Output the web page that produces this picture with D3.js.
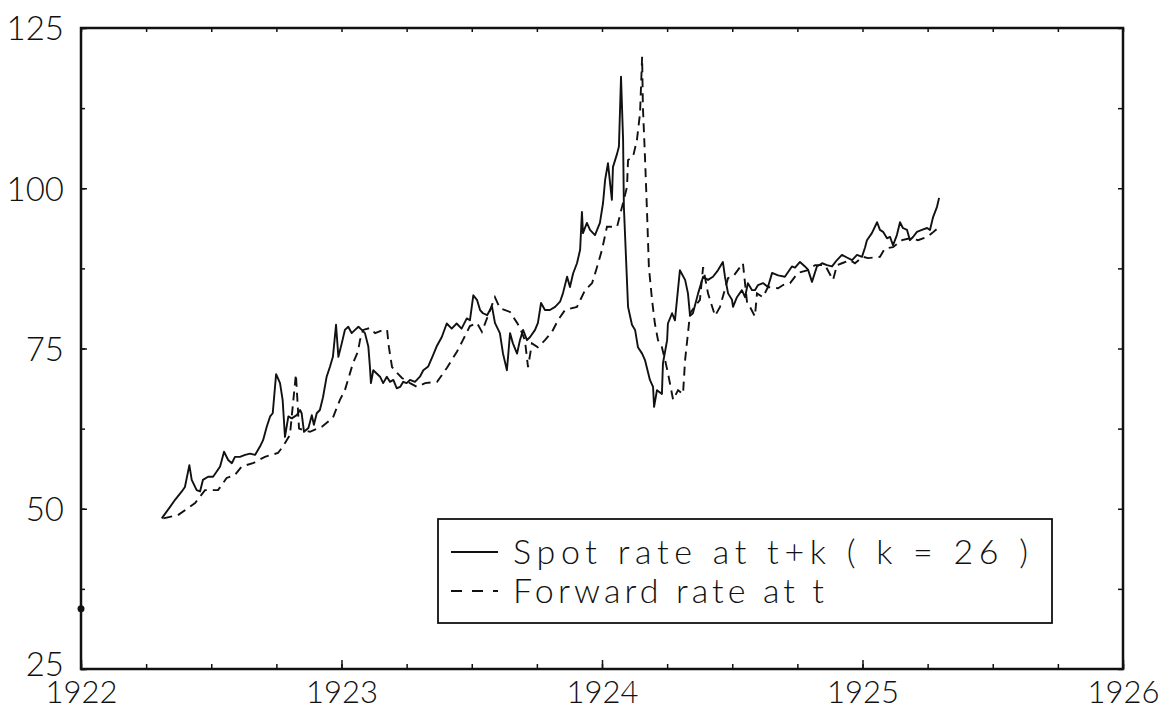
<!DOCTYPE html>
<html>
<head>
<meta charset="utf-8">
<script src="https://cdn.jsdelivr.net/npm/d3@7"></script>
<style>
  body { margin: 0; background: #fff; }
  svg { display: block; }
  text { font-family: Lato, "DejaVu Sans", sans-serif; font-weight: 300; fill: #111; }
</style>
</head>
<body>
<div id="chart"></div>
<script>
// spot rate at t+k (k = 26), weekly: [year, value]
const spotSeries = [
  [1922.310, 48.5], [1922.342, 50.3], [1922.361, 51.4], [1922.387, 52.7], [1922.399, 53.4],
  [1922.416, 56.8], [1922.425, 54.5], [1922.444, 52.9], [1922.457, 52.7], [1922.468, 54.5],
  [1922.488, 55.0], [1922.507, 55.0], [1922.521, 55.8], [1922.534, 56.6], [1922.549, 58.9],
  [1922.565, 57.6], [1922.579, 57.1], [1922.591, 58.1], [1922.610, 58.1], [1922.630, 58.4],
  [1922.649, 58.6], [1922.668, 58.4], [1922.687, 59.7], [1922.699, 60.7], [1922.713, 62.8],
  [1922.726, 64.4], [1922.736, 64.9], [1922.749, 71.0], [1922.764, 69.6], [1922.774, 67.0],
  [1922.783, 61.2], [1922.796, 64.4], [1922.809, 64.1], [1922.828, 64.6], [1922.841, 65.4],
  [1922.847, 64.9], [1922.856, 62.0], [1922.873, 62.6], [1922.886, 64.6], [1922.894, 63.1],
  [1922.905, 64.9], [1922.917, 65.4], [1922.929, 67.4], [1922.943, 70.6], [1922.956, 72.2],
  [1922.967, 73.7], [1922.979, 78.7], [1922.988, 73.7], [1923.001, 75.8], [1923.013, 77.9],
  [1923.026, 78.4], [1923.039, 77.4], [1923.052, 77.9], [1923.065, 78.4], [1923.078, 77.9],
  [1923.090, 77.4], [1923.103, 75.3], [1923.109, 72.2], [1923.113, 69.6], [1923.122, 71.6],
  [1923.135, 71.1], [1923.148, 70.6], [1923.160, 69.6], [1923.174, 70.6], [1923.186, 69.8],
  [1923.199, 70.1], [1923.212, 68.8], [1923.225, 69.0], [1923.237, 69.8], [1923.250, 69.6],
  [1923.263, 70.1], [1923.282, 69.8], [1923.301, 70.6], [1923.314, 71.6], [1923.333, 72.2],
  [1923.352, 74.0], [1923.365, 75.3], [1923.385, 76.8], [1923.404, 78.9], [1923.423, 78.1],
  [1923.442, 78.9], [1923.461, 78.1], [1923.481, 79.7], [1923.493, 79.4], [1923.506, 83.3],
  [1923.520, 82.6], [1923.532, 81.0], [1923.543, 80.5], [1923.559, 80.2], [1923.570, 81.0],
  [1923.578, 81.5], [1923.589, 79.0], [1923.608, 77.4], [1923.620, 74.2], [1923.635, 71.6],
  [1923.647, 77.4], [1923.658, 75.8], [1923.674, 74.2], [1923.685, 76.3], [1923.697, 77.9],
  [1923.712, 76.3], [1923.724, 76.8], [1923.743, 77.9], [1923.754, 79.0], [1923.766, 82.1],
  [1923.781, 81.0], [1923.800, 81.0], [1923.820, 81.5], [1923.839, 82.3], [1923.850, 83.6],
  [1923.866, 86.2], [1923.877, 84.6], [1923.889, 86.7], [1923.904, 88.3], [1923.916, 90.4],
  [1923.923, 96.3], [1923.927, 93.0], [1923.942, 94.6], [1923.954, 93.5], [1923.973, 92.7],
  [1923.992, 94.6], [1924.004, 97.7], [1924.012, 101.3], [1924.023, 103.9], [1924.031, 100.8],
  [1924.038, 98.2], [1924.042, 103.3], [1924.058, 105.4], [1924.065, 106.5], [1924.073, 117.4],
  [1924.081, 107.5], [1924.084, 97.1], [1924.092, 89.3], [1924.100, 81.5], [1924.115, 78.7],
  [1924.127, 77.9], [1924.138, 75.2], [1924.154, 74.2], [1924.165, 73.2], [1924.184, 70.1],
  [1924.196, 69.0], [1924.200, 65.9], [1924.211, 68.5], [1924.230, 67.9], [1924.234, 72.7],
  [1924.250, 76.3], [1924.253, 78.9], [1924.269, 80.5], [1924.280, 79.4], [1924.299, 87.2],
  [1924.319, 85.7], [1924.330, 83.6], [1924.338, 80.1], [1924.349, 80.5], [1924.369, 83.6],
  [1924.388, 86.2], [1924.407, 85.7], [1924.426, 86.2], [1924.445, 87.2], [1924.464, 88.5],
  [1924.472, 86.2], [1924.484, 83.6], [1924.499, 82.6], [1924.503, 81.5], [1924.518, 83.0],
  [1924.537, 84.1], [1924.549, 83.0], [1924.560, 85.2], [1924.576, 84.1], [1924.587, 84.1],
  [1924.599, 84.9], [1924.618, 85.2], [1924.637, 84.6], [1924.653, 86.8], [1924.676, 86.4],
  [1924.702, 86.2], [1924.729, 87.8], [1924.741, 87.6], [1924.760, 88.5], [1924.779, 87.8],
  [1924.791, 87.3], [1924.806, 85.4], [1924.825, 87.8], [1924.845, 88.3], [1924.864, 88.0],
  [1924.883, 87.8], [1924.902, 88.8], [1924.921, 89.6], [1924.940, 89.2], [1924.960, 88.8],
  [1924.979, 89.6], [1924.998, 89.3], [1925.010, 90.8], [1925.017, 91.9], [1925.036, 93.0],
  [1925.056, 94.7], [1925.067, 93.5], [1925.079, 93.2], [1925.094, 92.2], [1925.106, 92.4],
  [1925.117, 91.1], [1925.132, 92.7], [1925.144, 94.7], [1925.155, 93.8], [1925.171, 93.5],
  [1925.182, 91.9], [1925.194, 92.4], [1925.209, 93.2], [1925.228, 93.5], [1925.248, 93.8],
  [1925.259, 93.5], [1925.271, 95.5], [1925.286, 97.1], [1925.294, 98.5]
];

// forward rate at t
const forwardSeries = [
  [1922.316, 48.5], [1922.372, 49.0], [1922.438, 50.9], [1922.476, 52.9], [1922.526, 52.9],
  [1922.559, 54.8], [1922.591, 55.3], [1922.617, 56.6], [1922.660, 57.1], [1922.706, 58.1],
  [1922.756, 58.7], [1922.775, 59.7], [1922.802, 61.5], [1922.825, 71.0], [1922.837, 62.5],
  [1922.879, 62.0], [1922.925, 62.8], [1922.967, 64.2], [1922.994, 67.0], [1923.013, 68.5],
  [1923.033, 71.2], [1923.044, 72.7], [1923.063, 74.5], [1923.071, 76.3], [1923.083, 77.9],
  [1923.109, 78.2], [1923.129, 77.4], [1923.159, 77.9], [1923.175, 77.9], [1923.182, 75.2],
  [1923.194, 72.1], [1923.213, 71.2], [1923.232, 70.4], [1923.263, 69.6], [1923.290, 69.0],
  [1923.321, 69.6], [1923.367, 69.8], [1923.405, 72.0], [1923.443, 74.5], [1923.466, 76.3],
  [1923.493, 78.5], [1923.520, 79.0], [1923.539, 77.6], [1923.589, 83.0], [1923.608, 81.3],
  [1923.647, 80.7], [1923.674, 79.0], [1923.685, 78.2], [1923.704, 76.3], [1923.716, 72.1],
  [1923.731, 75.8], [1923.754, 75.2], [1923.781, 76.3], [1923.808, 77.6], [1923.831, 79.4],
  [1923.858, 81.0], [1923.904, 81.5], [1923.935, 84.1], [1923.962, 85.2], [1923.981, 87.7],
  [1924.000, 90.4], [1924.019, 94.0], [1924.058, 94.0], [1924.096, 100.2], [1924.100, 104.4],
  [1924.119, 104.9], [1924.134, 107.5], [1924.146, 111.7], [1924.154, 120.5], [1924.157, 112.7],
  [1924.165, 104.9], [1924.173, 96.1], [1924.180, 87.7], [1924.192, 82.6], [1924.203, 78.9],
  [1924.215, 76.3], [1924.230, 75.2], [1924.242, 73.2], [1924.253, 71.2], [1924.273, 67.0],
  [1924.292, 68.5], [1924.311, 67.9], [1924.319, 73.2], [1924.330, 77.4], [1924.338, 80.5],
  [1924.376, 82.6], [1924.388, 87.7], [1924.407, 83.6], [1924.434, 80.1], [1924.453, 81.5],
  [1924.484, 86.0], [1924.503, 86.2], [1924.541, 88.3], [1924.557, 82.1], [1924.568, 81.5],
  [1924.587, 80.0], [1924.595, 83.6], [1924.618, 83.0], [1924.637, 84.6], [1924.676, 84.4],
  [1924.695, 84.9], [1924.722, 85.2], [1924.752, 86.8], [1924.787, 87.2], [1924.818, 88.0],
  [1924.856, 88.0], [1924.887, 85.7], [1924.902, 88.0], [1924.921, 88.3], [1924.952, 88.8],
  [1924.971, 88.3], [1925.002, 89.3], [1925.021, 89.1], [1925.067, 89.3], [1925.086, 90.6],
  [1925.117, 90.8], [1925.152, 91.9], [1925.182, 92.2], [1925.213, 91.9], [1925.248, 92.4],
  [1925.267, 93.0], [1925.290, 93.8]
];

// lone dot sitting on the left axis in the original
const strayPoint = [1922.0, 34.4];

const xTickLabels = [1922, 1923, 1924, 1925, 1926];
const yTickLabels = [25, 50, 75, 100, 125];
const xMinorTicks = d3.range(1922, 1926.01, 0.25);
const yMinorTicks = d3.range(25, 125.01, 12.5);
const legendLabels = ['Spot rate at t+k ( k = 26 )', 'Forward rate at t'];

const width = 1172, height = 710;
const plotLeft = 81, plotRight = 1123, plotTop = 28, plotBottom = 669;

const svg = d3.select('#chart').append('svg')
  .attr('width', width)
  .attr('height', height);

const x = d3.scaleLinear().domain([1922, 1926]).range([plotLeft, plotRight]);
const y = d3.scaleLinear().domain([25, 125]).range([plotBottom, plotTop]);

// inward ticks on all four sides
function ticks(axis, transform) {
  const g = svg.append('g').attr('transform', transform).call(axis);
  g.select('.domain').remove();
  g.selectAll('line').attr('stroke', '#111').attr('stroke-width', 1.5);
  return g;
}

ticks(d3.axisBottom(x).tickValues(xMinorTicks).tickSize(-5).tickFormat(''), `translate(0,${plotBottom})`);
ticks(d3.axisTop(x).tickValues(xMinorTicks).tickSize(-4).tickFormat(''), `translate(0,${plotTop})`);
ticks(d3.axisLeft(y).tickValues(yMinorTicks).tickSize(-4).tickFormat(''), `translate(${plotLeft},0)`);
ticks(d3.axisRight(y).tickValues(yMinorTicks).tickSize(-5).tickFormat(''), `translate(${plotRight},0)`);

// labelled axes
const xAxis = ticks(d3.axisBottom(x).tickValues(xTickLabels).tickSize(-9).tickFormat(d3.format('d')),
  `translate(0,${plotBottom})`);
xAxis.selectAll('text')
  .attr('dy', null)
  .attr('y', 34)
  .style('font-size', '31px')
  .style('font-family', 'Lato, "DejaVu Sans", sans-serif')
  .style('font-weight', 300)
  .attr('fill', '#111');

const yAxis = ticks(d3.axisLeft(y).tickValues(yTickLabels).tickSize(-6).tickPadding(17),
  `translate(${plotLeft},0)`);
yAxis.selectAll('text')
  .style('font-size', '33px')
  .style('font-family', 'Lato, "DejaVu Sans", sans-serif')
  .style('font-weight', 300)
  .attr('fill', '#111')
  .attr('dy', d => d === 25 ? '0.2em' : '0.36em');

// frame
svg.append('rect')
  .attr('x', plotLeft).attr('y', plotTop)
  .attr('width', plotRight - plotLeft).attr('height', plotBottom - plotTop)
  .attr('fill', 'none')
  .attr('stroke', '#111')
  .attr('stroke-width', 2.5);

const line = d3.line().x(d => x(d[0])).y(d => y(d[1]));

svg.append('path')
  .datum(forwardSeries)
  .attr('d', line)
  .attr('fill', 'none')
  .attr('stroke', '#111')
  .attr('stroke-width', 1.9)
  .attr('stroke-dasharray', '9,6');

svg.append('path')
  .datum(spotSeries)
  .attr('d', line)
  .attr('fill', 'none')
  .attr('stroke', '#111')
  .attr('stroke-width', 1.9)
  .attr('stroke-linejoin', 'round');

svg.append('circle')
  .attr('cx', x(strayPoint[0]))
  .attr('cy', y(strayPoint[1]))
  .attr('r', 3.5)
  .attr('fill', '#111');

// legend
const legend = svg.append('g').attr('transform', 'translate(438,519)');

legend.append('rect')
  .attr('width', 614).attr('height', 104)
  .attr('fill', '#fff')
  .attr('stroke', '#111')
  .attr('stroke-width', 1.8);

const legendRows = legend.selectAll('.legend-row')
  .data(legendLabels)
  .enter().append('g')
  .attr('class', 'legend-row')
  .attr('transform', (d, i) => `translate(0, ${33 + i * 39})`);

legendRows.append('line')
  .attr('x1', 13).attr('x2', 60)
  .attr('stroke', '#111')
  .attr('stroke-width', 1.8)
  .attr('stroke-dasharray', (d, i) => i === 0 ? null : '11,10');

legendRows.append('text')
  .attr('x', 75)
  .attr('y', 12)
  .attr('textLength', (d, i) => i === 0 ? 515 : 311)
  .attr('lengthAdjust', 'spacing')
  .style('font-size', '34px')
  .text(d => d);
</script>
</body>
</html>
